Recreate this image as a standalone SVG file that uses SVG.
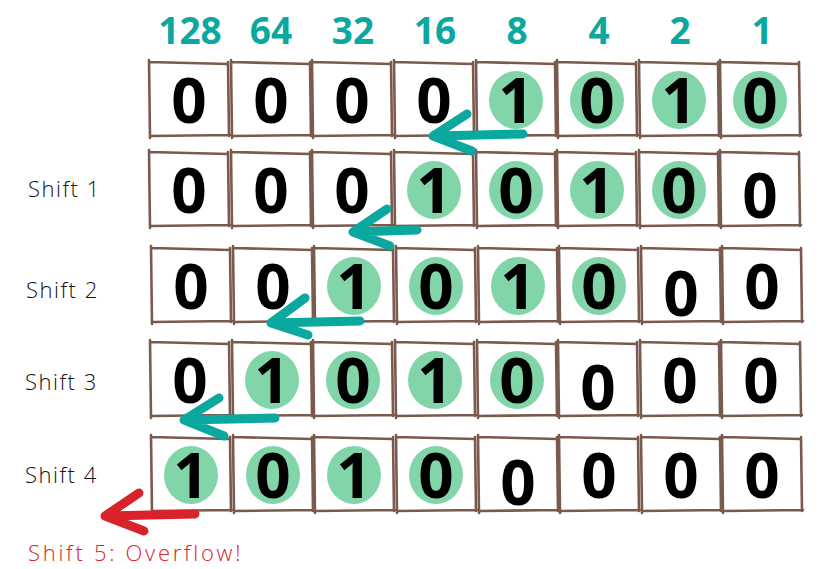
<svg xmlns="http://www.w3.org/2000/svg" xmlns:xlink="http://www.w3.org/1999/xlink" width="833" height="569" viewBox="0 0 833 569">
<style>
.bx{fill:none;stroke:#7b5a4e;stroke-width:2.6;stroke-linecap:round}
.hl{fill:#82d4a9}
.d{font-family:"Open Sans","DejaVu Sans",sans-serif;font-weight:700;font-size:62px;text-anchor:middle;fill:#000}
.h{font-family:"Open Sans","DejaVu Sans",sans-serif;font-weight:700;font-size:37px;text-anchor:middle;fill:#0aa89e}
.lb{font-family:"Open Sans","Liberation Sans",sans-serif;font-weight:300;font-size:22px;fill:#111;letter-spacing:1.5px}
.ar{fill:none;stroke:#0aa89e;stroke-width:9;stroke-linecap:round;stroke-linejoin:round}
.ov{fill:none;stroke:#d9232a;stroke-width:9;stroke-linecap:round;stroke-linejoin:round}
</style>
<defs>
<path id="box" class="bx" d="M-1 0 L78 2 M78 0 L79 74 M80 73 L0 74 M0 76 L-1 -2"/>
</defs>
<rect width="833" height="569" fill="#fff"/>
<g id="header">
<text class="h" x="190" y="44">128</text>
<text class="h" x="271" y="44">64</text>
<text class="h" x="353" y="44">32</text>
<text class="h" x="435" y="44">16</text>
<text class="h" x="517" y="44">8</text>
<text class="h" x="599" y="44">4</text>
<text class="h" x="680" y="44">2</text>
<text class="h" x="762" y="44">1</text>
</g>
<g id="labels">
<text class="lb" x="28" y="197">Shift 1</text>
<text class="lb" x="26" y="298">Shift 2</text>
<text class="lb" x="25" y="390">Shift 3</text>
<text class="lb" x="25" y="483">Shift 4</text>
<text class="lb" x="28" y="561" style="fill:#d9232a" textLength="214">Shift 5: Overflow!</text>
</g>
<g id="row0">
<g id="r0c0" transform="translate(150,62)"><use href="#box"/><text class="d" x="39" y="61">0</text></g>
<g id="r0c1" transform="translate(232,62)"><use href="#box"/><text class="d" x="39" y="61">0</text></g>
<g id="r0c2" transform="translate(313,62)"><use href="#box"/><text class="d" x="39" y="61">0</text></g>
<g id="r0c3" transform="translate(395,62)"><use href="#box"/><text class="d" x="39" y="61">0</text></g>
<g id="r0c4" transform="translate(477,62)"><use href="#box"/><ellipse class="hl" cx="39" cy="38" rx="27" ry="29"/><text class="d" x="39" y="61">1</text></g>
<g id="r0c5" transform="translate(558,62)"><use href="#box"/><ellipse class="hl" cx="39" cy="38" rx="27" ry="29"/><text class="d" x="39" y="61">0</text></g>
<g id="r0c6" transform="translate(640,62)"><use href="#box"/><ellipse class="hl" cx="39" cy="38" rx="27" ry="29"/><text class="d" x="39" y="61">1</text></g>
<g id="r0c7" transform="translate(721,62)"><use href="#box"/><ellipse class="hl" cx="39" cy="38" rx="27" ry="29"/><text class="d" x="39" y="61">0</text></g>
</g>
<g id="row1">
<g id="r1c0" transform="translate(150,152)"><use href="#box"/><text class="d" x="39" y="61">0</text></g>
<g id="r1c1" transform="translate(232,152)"><use href="#box"/><text class="d" x="39" y="61">0</text></g>
<g id="r1c2" transform="translate(313,152)"><use href="#box"/><text class="d" x="39" y="61">0</text></g>
<g id="r1c3" transform="translate(395,152)"><use href="#box"/><ellipse class="hl" cx="39" cy="38" rx="27" ry="29"/><text class="d" x="39" y="61">1</text></g>
<g id="r1c4" transform="translate(477,152)"><use href="#box"/><ellipse class="hl" cx="39" cy="38" rx="27" ry="29"/><text class="d" x="39" y="61">0</text></g>
<g id="r1c5" transform="translate(558,152)"><use href="#box"/><ellipse class="hl" cx="39" cy="38" rx="27" ry="29"/><text class="d" x="39" y="61">1</text></g>
<g id="r1c6" transform="translate(640,152)"><use href="#box"/><ellipse class="hl" cx="39" cy="38" rx="27" ry="29"/><text class="d" x="39" y="61">0</text></g>
<g id="r1c7" transform="translate(721,152)"><use href="#box"/><text class="d" x="39" y="66">0</text></g>
</g>
<g id="row2">
<g id="r2c0" transform="translate(152,248)"><use href="#box"/><text class="d" x="39" y="61">0</text></g>
<g id="r2c1" transform="translate(234,248)"><use href="#box"/><text class="d" x="39" y="61">0</text></g>
<g id="r2c2" transform="translate(315,248)"><use href="#box"/><ellipse class="hl" cx="39" cy="38" rx="27" ry="29"/><text class="d" x="39" y="61">1</text></g>
<g id="r2c3" transform="translate(397,248)"><use href="#box"/><ellipse class="hl" cx="39" cy="38" rx="27" ry="29"/><text class="d" x="39" y="61">0</text></g>
<g id="r2c4" transform="translate(479,248)"><use href="#box"/><ellipse class="hl" cx="39" cy="38" rx="27" ry="29"/><text class="d" x="39" y="61">1</text></g>
<g id="r2c5" transform="translate(560,248)"><use href="#box"/><ellipse class="hl" cx="39" cy="38" rx="27" ry="29"/><text class="d" x="39" y="61">0</text></g>
<g id="r2c6" transform="translate(642,248)"><use href="#box"/><text class="d" x="39" y="68">0</text></g>
<g id="r2c7" transform="translate(723,248)"><use href="#box"/><text class="d" x="39" y="61">0</text></g>
</g>
<g id="row3">
<g id="r3c0" transform="translate(151,342)"><use href="#box"/><text class="d" x="39" y="61">0</text></g>
<g id="r3c1" transform="translate(233,342)"><use href="#box"/><ellipse class="hl" cx="39" cy="38" rx="27" ry="29"/><text class="d" x="39" y="61">1</text></g>
<g id="r3c2" transform="translate(314,342)"><use href="#box"/><ellipse class="hl" cx="39" cy="38" rx="27" ry="29"/><text class="d" x="39" y="61">0</text></g>
<g id="r3c3" transform="translate(396,342)"><use href="#box"/><ellipse class="hl" cx="39" cy="38" rx="27" ry="29"/><text class="d" x="39" y="61">1</text></g>
<g id="r3c4" transform="translate(478,342)"><use href="#box"/><ellipse class="hl" cx="39" cy="38" rx="27" ry="29"/><text class="d" x="39" y="61">0</text></g>
<g id="r3c5" transform="translate(559,342)"><use href="#box"/><text class="d" x="39" y="68">0</text></g>
<g id="r3c6" transform="translate(641,342)"><use href="#box"/><text class="d" x="39" y="61">0</text></g>
<g id="r3c7" transform="translate(722,342)"><use href="#box"/><text class="d" x="39" y="61">0</text></g>
</g>
<g id="row4">
<g id="r4c0" transform="translate(152,437)"><use href="#box"/><ellipse class="hl" cx="39" cy="38" rx="27" ry="29"/><text class="d" x="39" y="61">1</text></g>
<g id="r4c1" transform="translate(234,437)"><use href="#box"/><ellipse class="hl" cx="39" cy="38" rx="27" ry="29"/><text class="d" x="39" y="61">0</text></g>
<g id="r4c2" transform="translate(315,437)"><use href="#box"/><ellipse class="hl" cx="39" cy="38" rx="27" ry="29"/><text class="d" x="39" y="61">1</text></g>
<g id="r4c3" transform="translate(397,437)"><use href="#box"/><ellipse class="hl" cx="39" cy="38" rx="27" ry="29"/><text class="d" x="39" y="61">0</text></g>
<g id="r4c4" transform="translate(479,437)"><use href="#box"/><text class="d" x="39" y="68">0</text></g>
<g id="r4c5" transform="translate(560,437)"><use href="#box"/><text class="d" x="39" y="61">0</text></g>
<g id="r4c6" transform="translate(642,437)"><use href="#box"/><text class="d" x="39" y="61">0</text></g>
<g id="r4c7" transform="translate(723,437)"><use href="#box"/><text class="d" x="39" y="61">0</text></g>
</g>
<g id="connectors">
<path class="ar" d="M523 134 L433 136 M467 114 L433 136 L472 151"/>
<path class="ar" d="M417 230 L353 232 M387 209 L353 232 L390 246"/>
<path class="ar" d="M360 321 L271 323 M305 298 L271 323 L308 335"/>
<path class="ar" d="M275 418 L184 420 M219 398 L184 420 L224 436"/>
<path class="ov" d="M195 514 L105 516 M139 493 L105 516 L144 531"/>
</g>
</svg>
